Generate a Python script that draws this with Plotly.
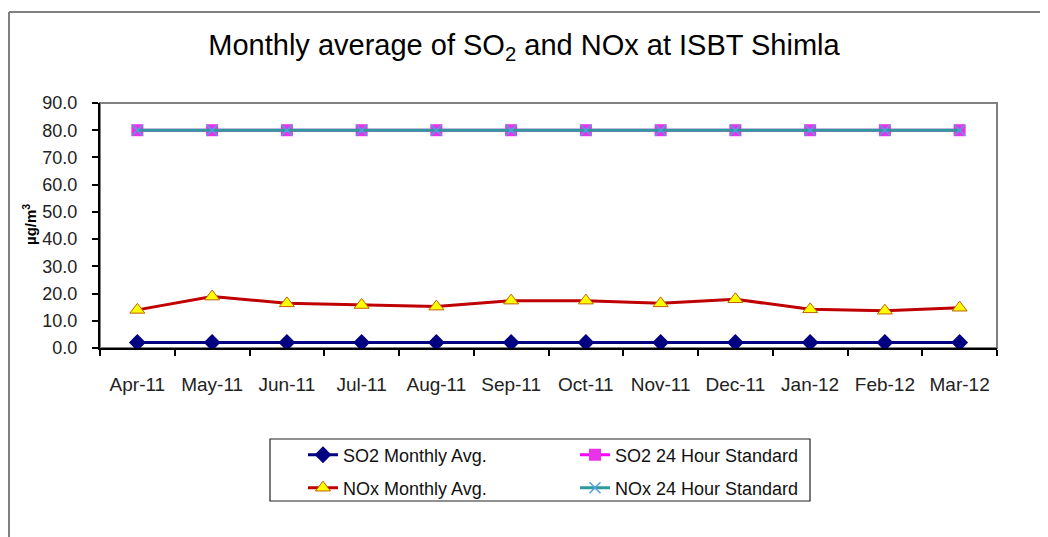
import plotly.graph_objects as go

months = ["Apr-11", "May-11", "Jun-11", "Jul-11", "Aug-11", "Sep-11",
          "Oct-11", "Nov-11", "Dec-11", "Jan-12", "Feb-12", "Mar-12"]
so2_avg = [2.0, 2.0, 2.0, 2.0, 2.0, 2.0, 2.0, 2.0, 2.0, 2.0, 2.0, 2.0]
so2_std = [80, 80, 80, 80, 80, 80, 80, 80, 80, 80, 80, 80]
nox_avg = [14.0, 18.9, 16.4, 15.8, 15.2, 17.4, 17.4, 16.4, 17.9, 14.2, 13.7, 14.8]
nox_std = [80, 80, 80, 80, 80, 80, 80, 80, 80, 80, 80, 80]
y_ticks = [0, 10, 20, 30, 40, 50, 60, 70, 80, 90]

# page body has an 8px default margin, so layout is offset to compensate
OFF = 8
W, H = 1048 - OFF, 537 - OFF
L, R, T, B = 100 - OFF, 997 - OFF, 103 - OFF, 348 - OFF
pw, ph = R - L, B - T


def px(x):  # reference-pixel x -> paper fraction
    return (x - OFF - L) / pw


def py(y):  # reference-pixel y -> paper fraction
    return (B - (y - OFF)) / ph


FONT = "Liberation Sans, Arial, sans-serif"

fig = go.Figure()
fig.add_trace(go.Scatter(
    x=months, y=so2_avg, name="SO2 Monthly Avg.", mode="lines+markers",
    line=dict(color="#000080", width=3),
    marker=dict(symbol="diamond", size=13, color="#000080"),
    legend="legend"))
fig.add_trace(go.Scatter(
    x=months, y=so2_std, name="SO2 24 Hour Standard", mode="lines+markers",
    line=dict(color="#FF00FF", width=3),
    marker=dict(symbol="square", size=12, color="#E833E8"),
    legend="legend2"))
fig.add_trace(go.Scatter(
    x=months, y=nox_avg, name="NOx Monthly Avg.", mode="lines+markers",
    line=dict(color="#C00000", width=3),
    marker=dict(symbol="triangle-up", size=13, color="#FFFF00",
                line=dict(color="#C06000", width=1)),
    legend="legend3"))
fig.add_trace(go.Scatter(
    x=months, y=nox_std, name="NOx 24 Hour Standard", mode="lines+markers",
    line=dict(color="#2E9B9B", width=3),
    marker=dict(symbol="x-thin-open", size=11, color="#4FA0E0",
                line=dict(color="#4FA0E0", width=1.5)),
    legend="legend4"))

shapes = [
    # plot area border (gray top/right)
    dict(type="rect", xref="paper", yref="paper", x0=0, x1=1, y0=0, y1=1,
         line=dict(color="#808080", width=2), layer="below"),
    # outer chart border (top and left)
    dict(type="line", xref="paper", yref="paper",
         x0=px(9), x1=px(1060), y0=py(12), y1=py(12),
         line=dict(color="#808080", width=2)),
    dict(type="line", xref="paper", yref="paper",
         x0=px(9), x1=px(9), y0=py(12), y1=py(560),
         line=dict(color="#808080", width=2)),
    # legend box
    dict(type="rect", xref="paper", yref="paper",
         x0=px(270), x1=px(810), y0=py(439), y1=py(501),
         line=dict(color="#222222", width=1.2), fillcolor="rgba(0,0,0,0)"),
]

leg_common = dict(font=dict(family=FONT, size=18, color="#111111"),
                  bgcolor="rgba(0,0,0,0)", borderwidth=0,
                  xanchor="left", yanchor="middle", itemwidth=30)

fig.update_layout(
    width=W, height=H,
    margin=dict(l=L, r=W - R, t=T, b=H - B, autoexpand=False),
    paper_bgcolor="white", plot_bgcolor="white",
    title=dict(text="Monthly average of SO<sub>2</sub> and NOx at ISBT Shimla",
               x=(524 - OFF) / W, xref="container", xanchor="center",
               y=1 - (45 - OFF) / H, yref="container", yanchor="middle",
               font=dict(family=FONT, size=29, color="#000000")),
    xaxis=dict(type="category", range=[-0.5, len(months) - 0.5],
               tickson="boundaries", ticks="outside",
               ticklen=6, tickwidth=1.5, tickcolor="#000000",
               showline=True, linecolor="#000000", linewidth=2,
               showgrid=False, zeroline=False,
               tickfont=dict(family=FONT, size=19, color="#222222"),
               ticklabelstandoff=18),
    yaxis=dict(range=[0, 90], tickvals=y_ticks, tickformat=".1f",
               ticks="outside", ticklen=6, tickwidth=1.5, tickcolor="#000000",
               showline=True, linecolor="#000000", linewidth=2,
               showgrid=False, zeroline=False,
               tickfont=dict(family=FONT, size=18, color="#222222"),
               ticklabelstandoff=11),
    showlegend=True,
    legend=dict(x=px(303), y=py(455), **leg_common),
    legend2=dict(x=px(575), y=py(455), **leg_common),
    legend3=dict(x=px(303), y=py(488), **leg_common),
    legend4=dict(x=px(575), y=py(488), **leg_common),
    shapes=shapes,
    annotations=[dict(text="<b>µg/m<sup>3</sup></b>", textangle=-90,
                      xref="paper", yref="paper", x=px(29), y=py(225),
                      xanchor="center", yanchor="middle", showarrow=False,
                      font=dict(family=FONT, size=15, color="#000000"))],
)

fig.write_html("out.html")
